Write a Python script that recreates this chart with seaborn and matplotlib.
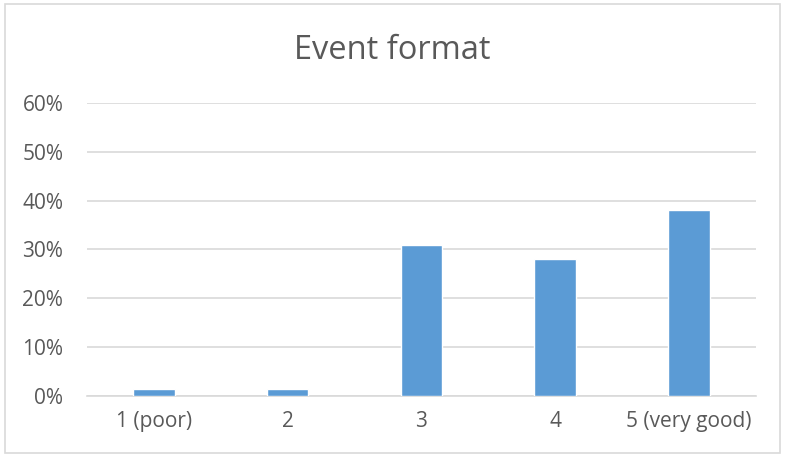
import matplotlib
matplotlib.use("Agg")
import matplotlib.pyplot as plt
import matplotlib.patches as mpatches
from matplotlib.ticker import PercentFormatter, MultipleLocator
import seaborn as sns
import pandas as pd

# Ratings and share of respondents
categories = ["1 (poor)", "2", "3", "4", "5 (very good)"]
shares = [0.014, 0.014, 0.31, 0.281, 0.38]

df = pd.DataFrame({"rating": categories, "share": shares})

sns.set_theme(style="white")
plt.rcParams["font.family"] = ["Open Sans", "DejaVu Sans"]

text_color = "#595959"
grid_color = "#d9d9d9"

fig = plt.figure(figsize=(7.85, 4.57), dpi=100)
ax = fig.add_axes([0.1108, 0.1335, 0.852, 0.6411])

sns.barplot(data=df, x="rating", y="share", color="#5B9BD5", width=0.31,
            saturation=1, ax=ax, zorder=3)

ax.set_ylim(0, 0.6)
ax.yaxis.set_major_locator(MultipleLocator(0.1))
ax.yaxis.set_major_formatter(PercentFormatter(1.0, decimals=0))
ax.grid(axis="y", color=grid_color, linewidth=1.2, zorder=0)
ax.set_axisbelow(True)

for side in ["top", "right", "left"]:
    ax.spines[side].set_visible(False)
ax.spines["bottom"].set_color(grid_color)
ax.spines["bottom"].set_linewidth(1.2)

ax.set_xlabel("")
ax.set_ylabel("")
ax.tick_params(axis="both", length=0, labelsize=15, colors=text_color)
ax.tick_params(axis="y", pad=17)
ax.tick_params(axis="x", pad=11)

fig.text(0.5, 1 - 59 / 457, "Event format", ha="center", va="baseline",
         fontsize=23.5, color=text_color)

# Light frame around the whole chart area
frame = mpatches.Rectangle((5 / 785, 4 / 457), 775 / 785, 449 / 457,
                           transform=fig.transFigure, fill=False,
                           edgecolor=grid_color, linewidth=1.2)
fig.patches.append(frame)

fig.savefig("out.png", dpi=100, facecolor="white")
